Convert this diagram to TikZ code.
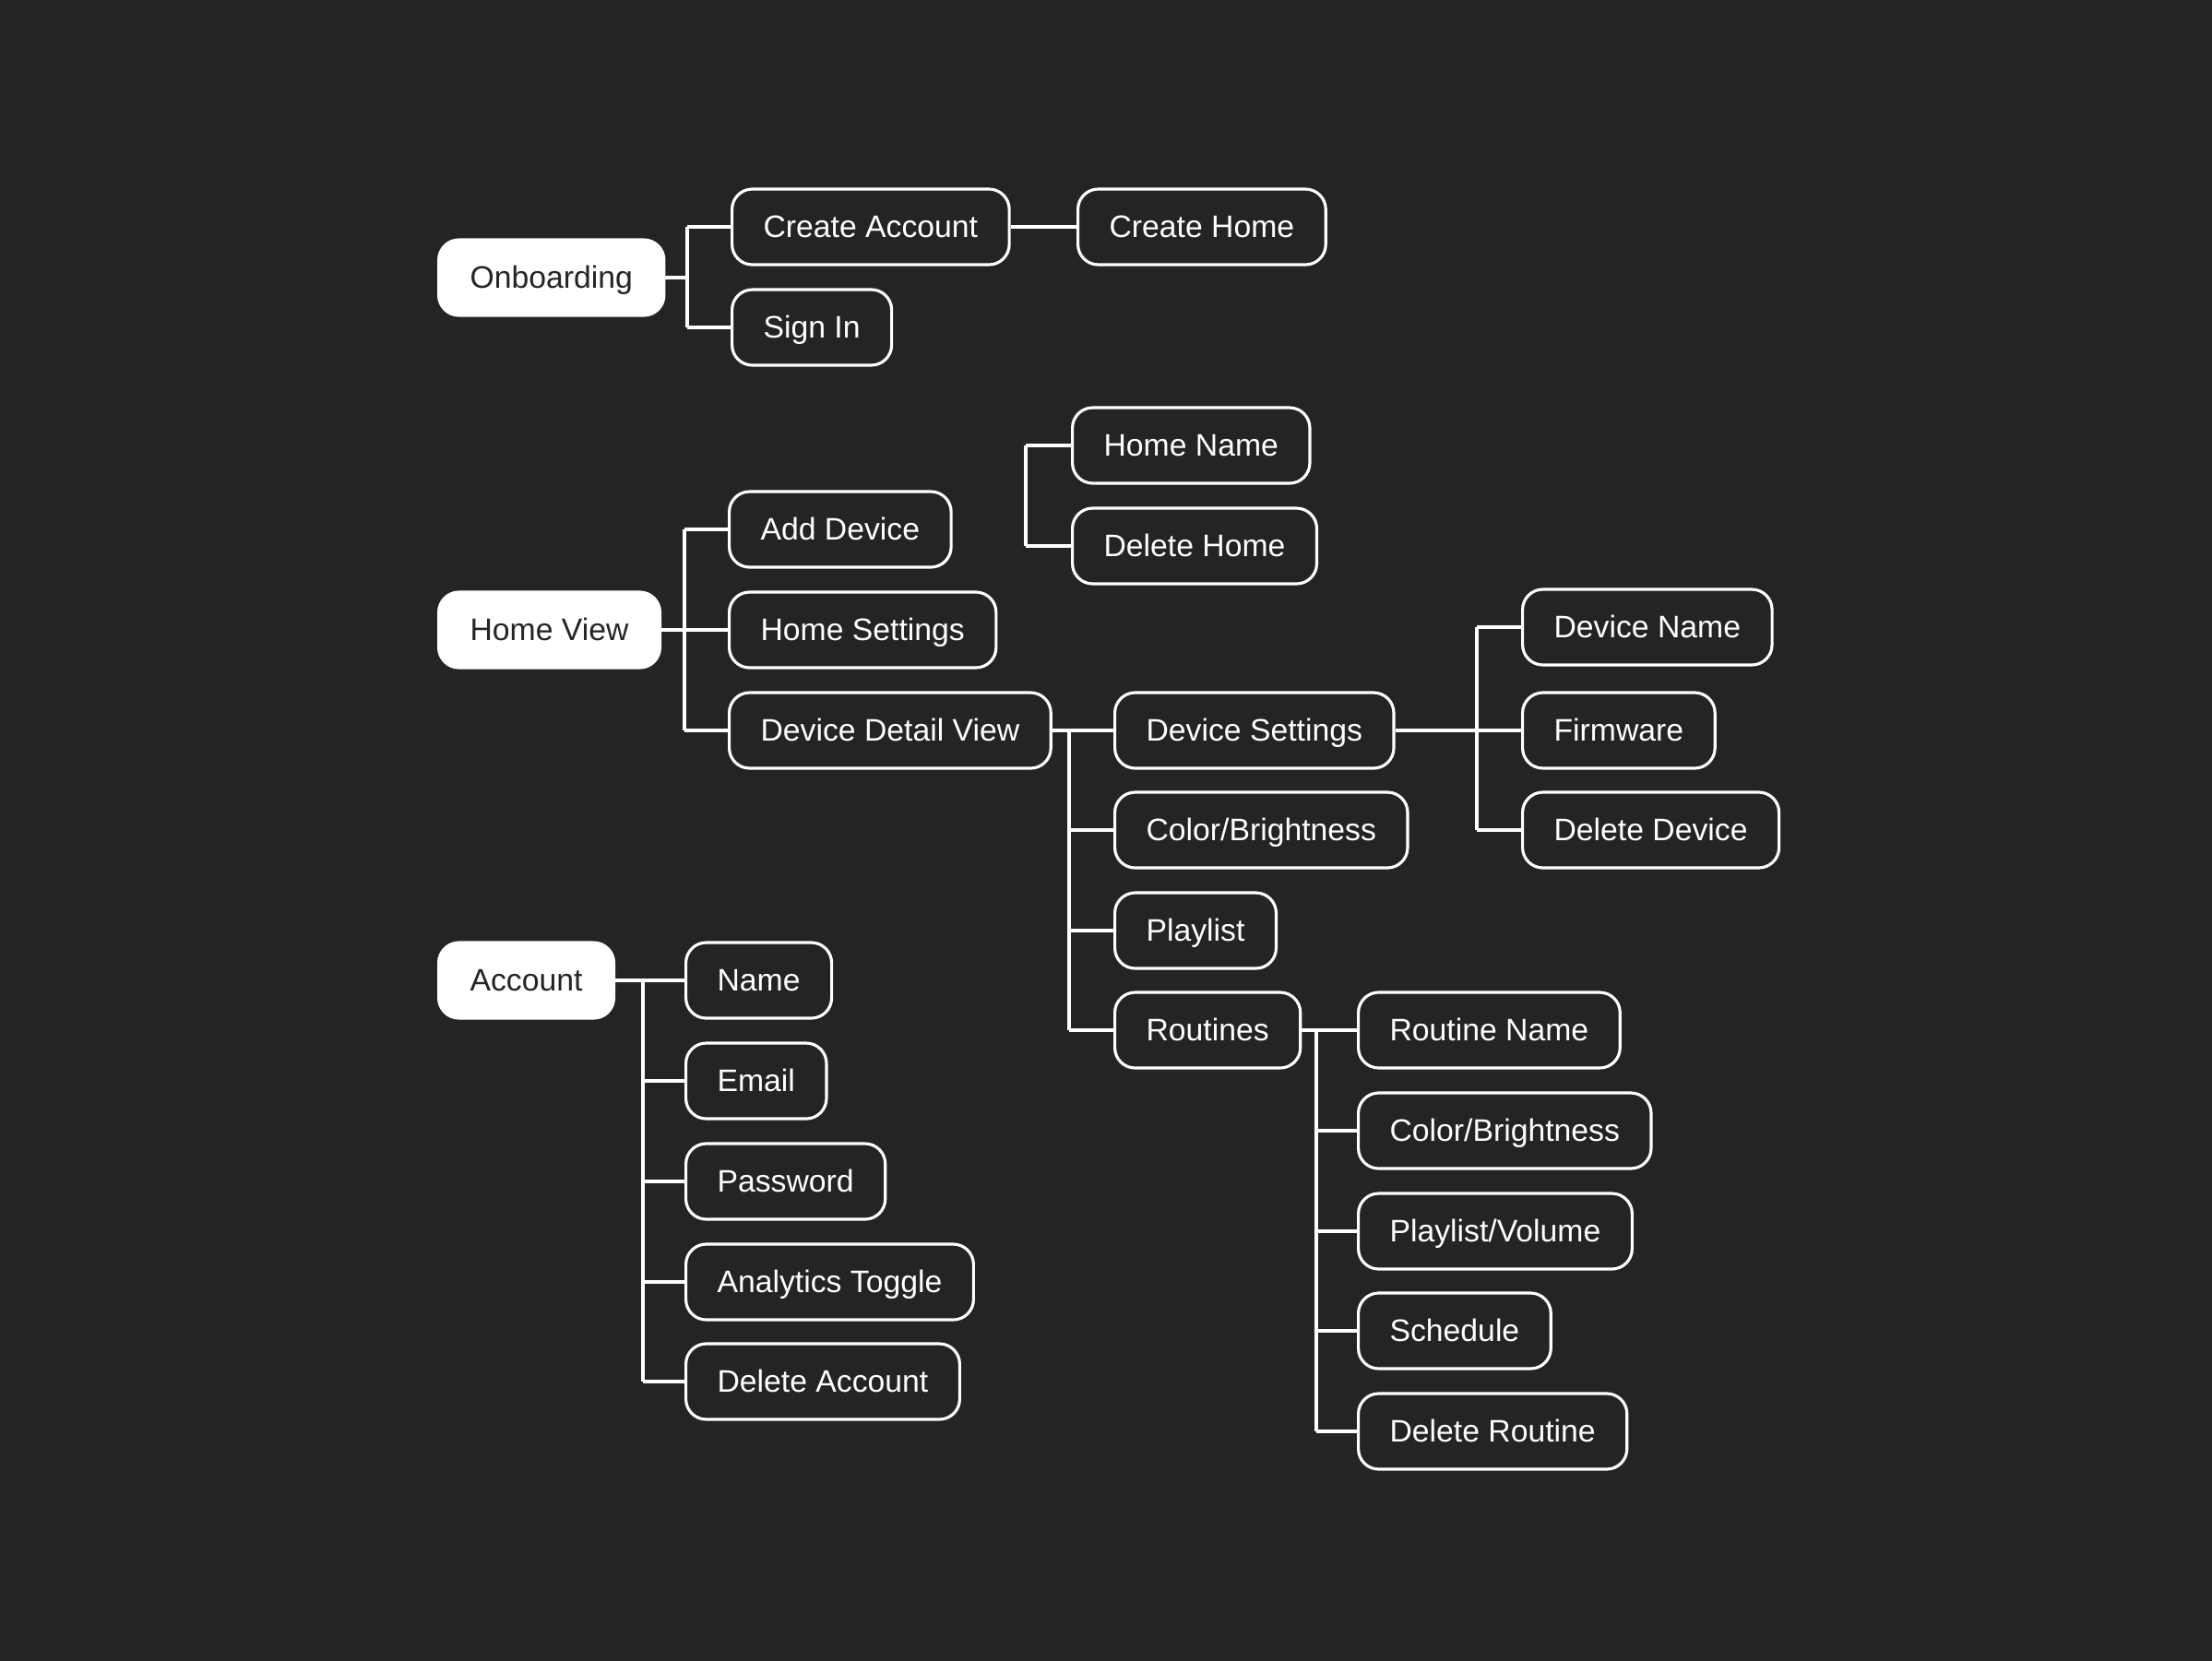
\documentclass[tikz,border=0pt]{standalone}
\usepackage{fontspec}
\setmainfont{Liberation Sans}
\definecolor{bgdark}{RGB}{36,36,38}
\tikzset{
    item/.style={draw=white, line width=0.9pt, rounded corners=0.22cm, fill=bgdark,
        text=white, anchor=west, minimum height=0.82cm, inner xsep=0.34cm,
        font=\fontsize{9.6}{11}\selectfont, text height=1.7ex, text depth=0.45ex},
    root/.style={item, fill=white, draw=white, text=bgdark},
    link/.style={draw=white, line width=0.9pt}
}
\begin{document}
\begin{tikzpicture}
    \useasboundingbox (0,0) rectangle (23.98,-18);
    \fill[bgdark] (-0.1,0.1) rectangle (24.08,-18.1);

    % onboarding
    \node[root] (onboard) at (4.74,-3.01) {Onboarding};
    \node[item] (creacc) at (7.92,-2.46) {Create Account};
    \node[item] (crehome) at (11.67,-2.46) {Create Home};
    \node[item] (signin) at (7.92,-3.55) {Sign In};
    \coordinate (obr) at (7.45,-3.01);

    \draw[link] (onboard.east) -- (obr);
    \draw[link] (obr |- creacc.west) -- (obr |- signin.west);
    \foreach \n in {creacc, signin}
        \draw[link] (obr |- \n.west) -- (\n.west);
    \draw[link] (creacc.east) -- (crehome.west);

    % home view
    \node[item] (homename) at (11.61,-4.83) {Home Name};
    \node[item] (delhome) at (11.61,-5.92) {Delete Home};
    \coordinate (hnbr) at (11.12,-4.83);
    \draw[link] (hnbr |- homename.west) -- (hnbr |- delhome.west);
    \foreach \n in {homename, delhome}
        \draw[link] (hnbr |- \n.west) -- (\n.west);

    \node[root] (homeview) at (4.74,-6.83) {Home View};
    \node[item] (adddev) at (7.89,-5.74) {Add Device};
    \node[item] (homeset) at (7.89,-6.83) {Home Settings};
    \node[item] (detail) at (7.89,-7.92) {Device Detail View};
    \coordinate (hvbr) at (7.42,-6.83);

    \draw[link] (homeview.east) -- (homeset.west);
    \draw[link] (hvbr |- adddev.west) -- (hvbr |- detail.west);
    \foreach \n in {adddev, detail}
        \draw[link] (hvbr |- \n.west) -- (\n.west);

    % device detail
    \node[item] (devset) at (12.07,-7.92) {Device Settings};
    \node[item] (color) at (12.07,-9.00) {Color/Brightness};
    \node[item] (playlist) at (12.07,-10.09) {Playlist};
    \node[item] (routines) at (12.07,-11.17) {Routines};
    \coordinate (ddbr) at (11.59,-7.92);

    \draw[link] (detail.east) -- (devset.west);
    \draw[link] (ddbr |- devset.west) -- (ddbr |- routines.west);
    \foreach \n in {color, playlist, routines}
        \draw[link] (ddbr |- \n.west) -- (\n.west);

    % device settings
    \node[item] (devname) at (16.49,-6.80) {Device Name};
    \node[item] (firmware) at (16.49,-7.92) {Firmware};
    \node[item] (deldev) at (16.49,-9.00) {Delete Device};
    \coordinate (dsbr) at (16.01,-7.92);

    \draw[link] (devset.east) -- (firmware.west);
    \draw[link] (dsbr |- devname.west) -- (dsbr |- deldev.west);
    \foreach \n in {devname, deldev}
        \draw[link] (dsbr |- \n.west) -- (\n.west);

    % routines
    \node[item] (rname) at (14.71,-11.17) {Routine Name};
    \node[item] (rcolor) at (14.71,-12.26) {Color/Brightness};
    \node[item] (rplay) at (14.71,-13.35) {Playlist/Volume};
    \node[item] (sched) at (14.71,-14.43) {Schedule};
    \node[item] (delrout) at (14.71,-15.52) {Delete Routine};
    \coordinate (rtbr) at (14.27,-11.17);

    \draw[link] (routines.east) -- (rname.west);
    \draw[link] (rtbr |- rname.west) -- (rtbr |- delrout.west);
    \foreach \n in {rcolor, rplay, sched, delrout}
        \draw[link] (rtbr |- \n.west) -- (\n.west);

    % account
    \node[root] (account) at (4.74,-10.63) {Account};
    \node[item] (name) at (7.42,-10.63) {Name};
    \node[item] (email) at (7.42,-11.72) {Email};
    \node[item] (password) at (7.42,-12.81) {Password};
    \node[item] (analytics) at (7.42,-13.90) {Analytics Toggle};
    \node[item] (delacc) at (7.42,-14.98) {Delete Account};
    \coordinate (acbr) at (6.97,-10.63);

    \draw[link] (account.east) -- (name.west);
    \draw[link] (acbr |- name.west) -- (acbr |- delacc.west);
    \foreach \n in {email, password, analytics, delacc}
        \draw[link] (acbr |- \n.west) -- (\n.west);
\end{tikzpicture}
\end{document}
